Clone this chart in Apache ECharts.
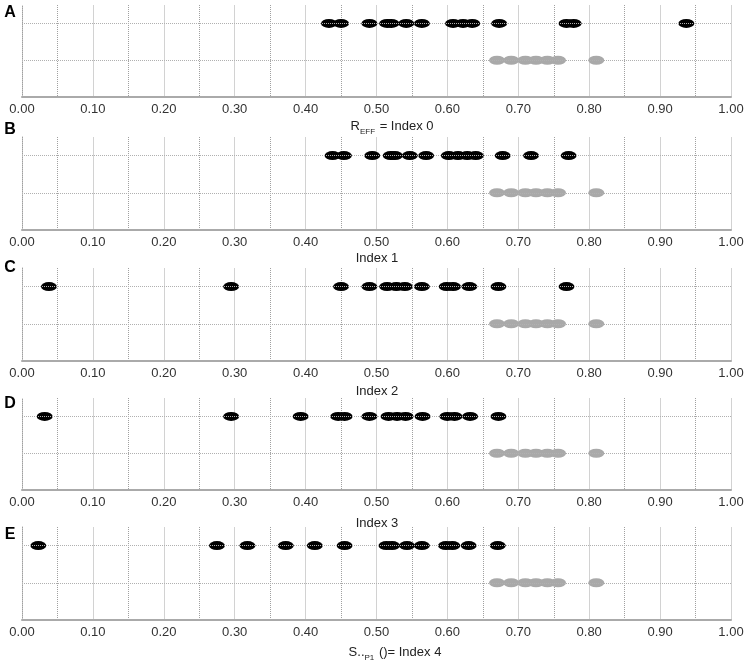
<!DOCTYPE html>
<html>
<head>
<meta charset="utf-8">
<script src="https://cdn.jsdelivr.net/npm/echarts@6/dist/echarts.min.js"></script>
<style>html,body{margin:0;padding:0;background:#fff}#c{width:753px;height:661px}</style>
</head>
<body>
<div id="c"></div>
<script>
// ---- data ----
const panelLetters = ['A', 'B', 'C', 'D', 'E'];
const panelTitles = [
  '{a|R}{s|EFF}{a| = Index 0}',
  '{a|Index 1}',
  '{a|Index 2}',
  '{a|Index 3}',
  '{a|S..}{s|P1}{a| ()= Index 4}'
];
const blackA = [0.433, 0.450, 0.490, 0.515, 0.521, 0.542, 0.564, 0.608, 0.622, 0.635, 0.673, 0.768, 0.778, 0.937];
const blackB = [0.438, 0.454, 0.494, 0.520, 0.526, 0.547, 0.570, 0.602, 0.615, 0.628, 0.640, 0.678, 0.718, 0.771];
const blackC = [0.038, 0.295, 0.450, 0.490, 0.515, 0.528, 0.540, 0.564, 0.599, 0.608, 0.631, 0.672, 0.768];
const blackD = [0.032, 0.295, 0.393, 0.446, 0.455, 0.490, 0.517, 0.529, 0.541, 0.565, 0.600, 0.610, 0.632, 0.672];
const blackE = [0.023, 0.275, 0.318, 0.372, 0.413, 0.455, 0.514, 0.522, 0.543, 0.564, 0.598, 0.607, 0.630, 0.671];
const grayRef = [0.670, 0.690, 0.710, 0.725, 0.741, 0.756, 0.810];
const blackSeries = [blackA, blackB, blackC, blackD, blackE];
const rowBlack = 2, rowGray = 1;

// ---- layout ----
const gridTops = [5, 137, 268, 398, 527];
const gridHeights = [92, 93, 93, 92, 93];
const titleX = [392, 377, 377, 377, 395];
const titleY = [125, 257, 390, 522, 651];
const letterY = [13, 130, 268, 404, 535];
const FONT = '"Liberation Sans", Arial, sans-serif';
const ellipse = 'path://M0,50 A50,50 0 1,1 100,50 A50,50 0 1,1 0,50 Z';

const grids = [], xAxes = [], yAxes = [], series = [], graphics = [];
for (let i = 0; i < 5; i++) {
  grids.push({ left: 22, width: 709, top: gridTops[i], height: gridHeights[i] });
  xAxes.push({
    type: 'value', gridIndex: i, min: 0, max: 1, interval: 0.1,
    axisLine: { show: true, lineStyle: { color: '#aaaaaa', width: 2 } },
    axisTick: { show: false },
    axisLabel: { color: '#333', fontSize: 13, fontFamily: FONT, margin: 6,
      formatter: v => v.toFixed(2) },
    splitLine: { show: true, showMinLine: false, lineStyle: { color: '#d2d2d2', width: 1 } },
    minorTick: { show: false, splitNumber: 2 },
    minorSplitLine: { show: true, lineStyle: { color: '#a0a0a0', type: 'dotted', width: 1 } }
  });
  yAxes.push({
    type: 'value', gridIndex: i, min: 0, max: 2.5,
    axisLine: { show: true, lineStyle: { color: '#a0a0a0', type: 'dotted' } },
    axisTick: { show: false }, axisLabel: { show: false }, splitLine: { show: false }
  });
  series.push({
    type: 'scatter', xAxisIndex: i, yAxisIndex: i, symbol: ellipse, symbolSize: [16, 9],
    itemStyle: { color: '#000', opacity: 1 }, silent: true, z: 3,
    data: blackSeries[i].map(v => [v, rowBlack])
  });
  series.push({
    type: 'scatter', xAxisIndex: i, yAxisIndex: i, symbol: ellipse, symbolSize: [16, 9],
    itemStyle: { color: '#a9a9a9', opacity: 1 }, silent: true, z: 3,
    data: grayRef.map(v => [v, rowGray])
  });
  series.push({
    type: 'scatter', xAxisIndex: i, yAxisIndex: i, data: [], z: 10, silent: true,
    markLine: {
      silent: true, symbol: 'none', label: { show: false }, animation: false,
      lineStyle: { color: '#b0b0b0', type: 'dotted', width: 1 },
      data: [{ yAxis: rowGray }, { yAxis: rowBlack }]
    }
  });
  graphics.push({
    type: 'text', x: 10, y: letterY[i],
    style: { text: panelLetters[i], font: 'bold 16px ' + FONT, fill: '#000',
      align: 'center', verticalAlign: 'middle' }
  });
  graphics.push({
    type: 'text', x: titleX[i], y: titleY[i],
    style: {
      text: panelTitles[i], align: 'center', verticalAlign: 'middle',
      rich: {
        a: { fontSize: 13, fontFamily: FONT, fill: '#222', lineHeight: 16, verticalAlign: 'bottom' },
        s: { fontSize: 8, fontFamily: FONT, fill: '#222', lineHeight: 8, verticalAlign: 'bottom', padding: [0, 1, -3, 0] }
      }
    }
  });
}

const chart = echarts.init(document.getElementById('c'));
chart.setOption({
  animation: false,
  grid: grids, xAxis: xAxes, yAxis: yAxes, series: series, graphic: graphics
});
</script>
</body>
</html>
